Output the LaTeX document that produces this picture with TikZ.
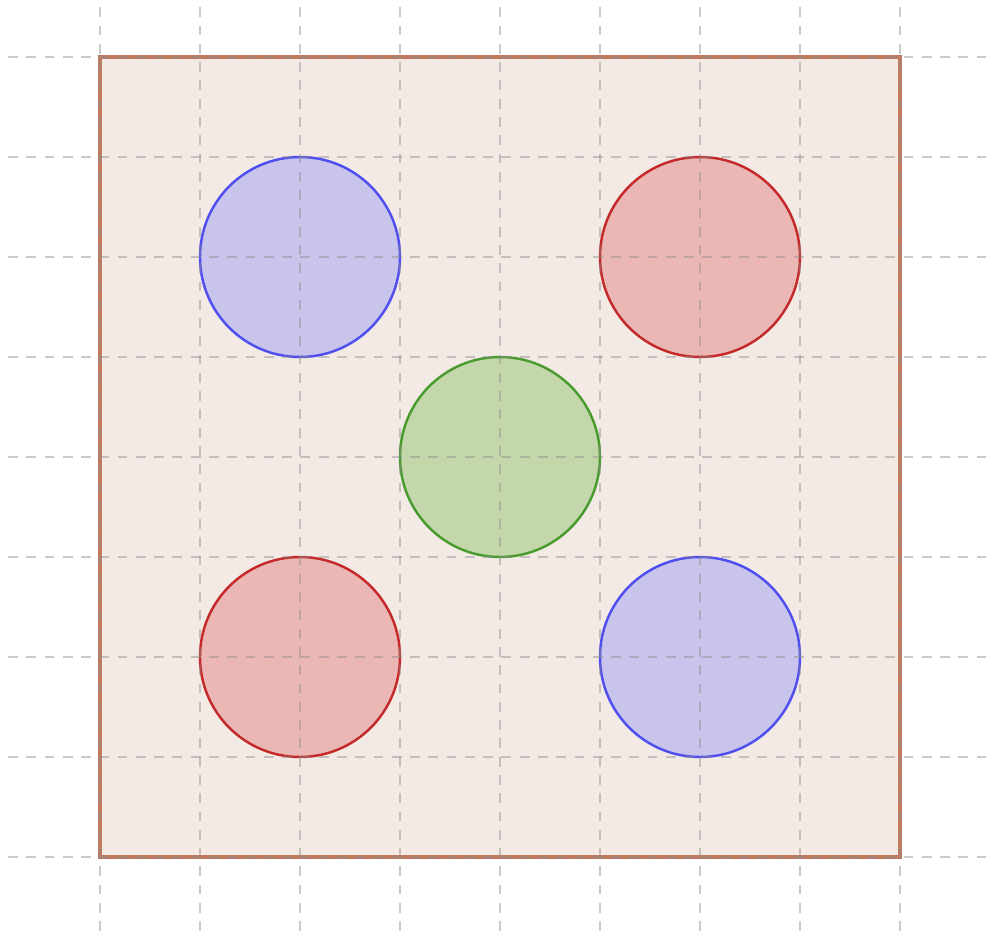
\documentclass[tikz,border=0pt]{standalone}
\usepackage{xcolor}
\usepackage{tikz}
\definecolor{boardFill}{HTML}{F3EAE5}
\definecolor{boardLine}{HTML}{C07A5E}
\definecolor{gridGrey}{HTML}{8C8C8C}
\definecolor{blueFill}{HTML}{C9C4EC}
\definecolor{blueLine}{HTML}{4F4FF0}
\definecolor{redFill}{HTML}{EBB7B4}
\definecolor{redLine}{HTML}{C42A2A}
\definecolor{greenFill}{HTML}{C3D7AA}
\definecolor{greenLine}{HTML}{4A9B2E}
\tikzset{
  board/.style={draw=boardLine, fill=boardFill, line width=1pt},
  disc/.style 2 args={circle, draw=#1, fill=#2, line width=0.7pt, minimum size=2cm, inner sep=0pt},
  gridline/.style={draw=gridGrey, draw opacity=0.45, dashed, dash pattern=on 2.8pt off 2.4pt, line width=0.7pt},
}
\begin{document}
\begin{tikzpicture}[x=1cm,y=1cm]

  \useasboundingbox (-1.0,-0.74) rectangle (8.95,8.57);

  % ---------- board ----------
  \draw[board] (0,0) rectangle (8,8);

  % ---------- discs ----------
  \node[disc={blueLine}{blueFill}]   (tl) at (2,6) {};
  \node[disc={redLine}{redFill}]     (tr) at (6,6) {};
  \node[disc={greenLine}{greenFill}] (mid) at (4,4) {};
  \node[disc={redLine}{redFill}]     (bl) at (2,2) {};
  \node[disc={blueLine}{blueFill}]   (br) at (6,2) {};

  % ---------- grid on top ----------
  \foreach \i in {0,...,8} {
    \draw[gridline] (\i,-0.74) -- (\i,8.52);
    \draw[gridline] (-0.92,\i) -- (8.95,\i);
  }

\end{tikzpicture}
\end{document}
